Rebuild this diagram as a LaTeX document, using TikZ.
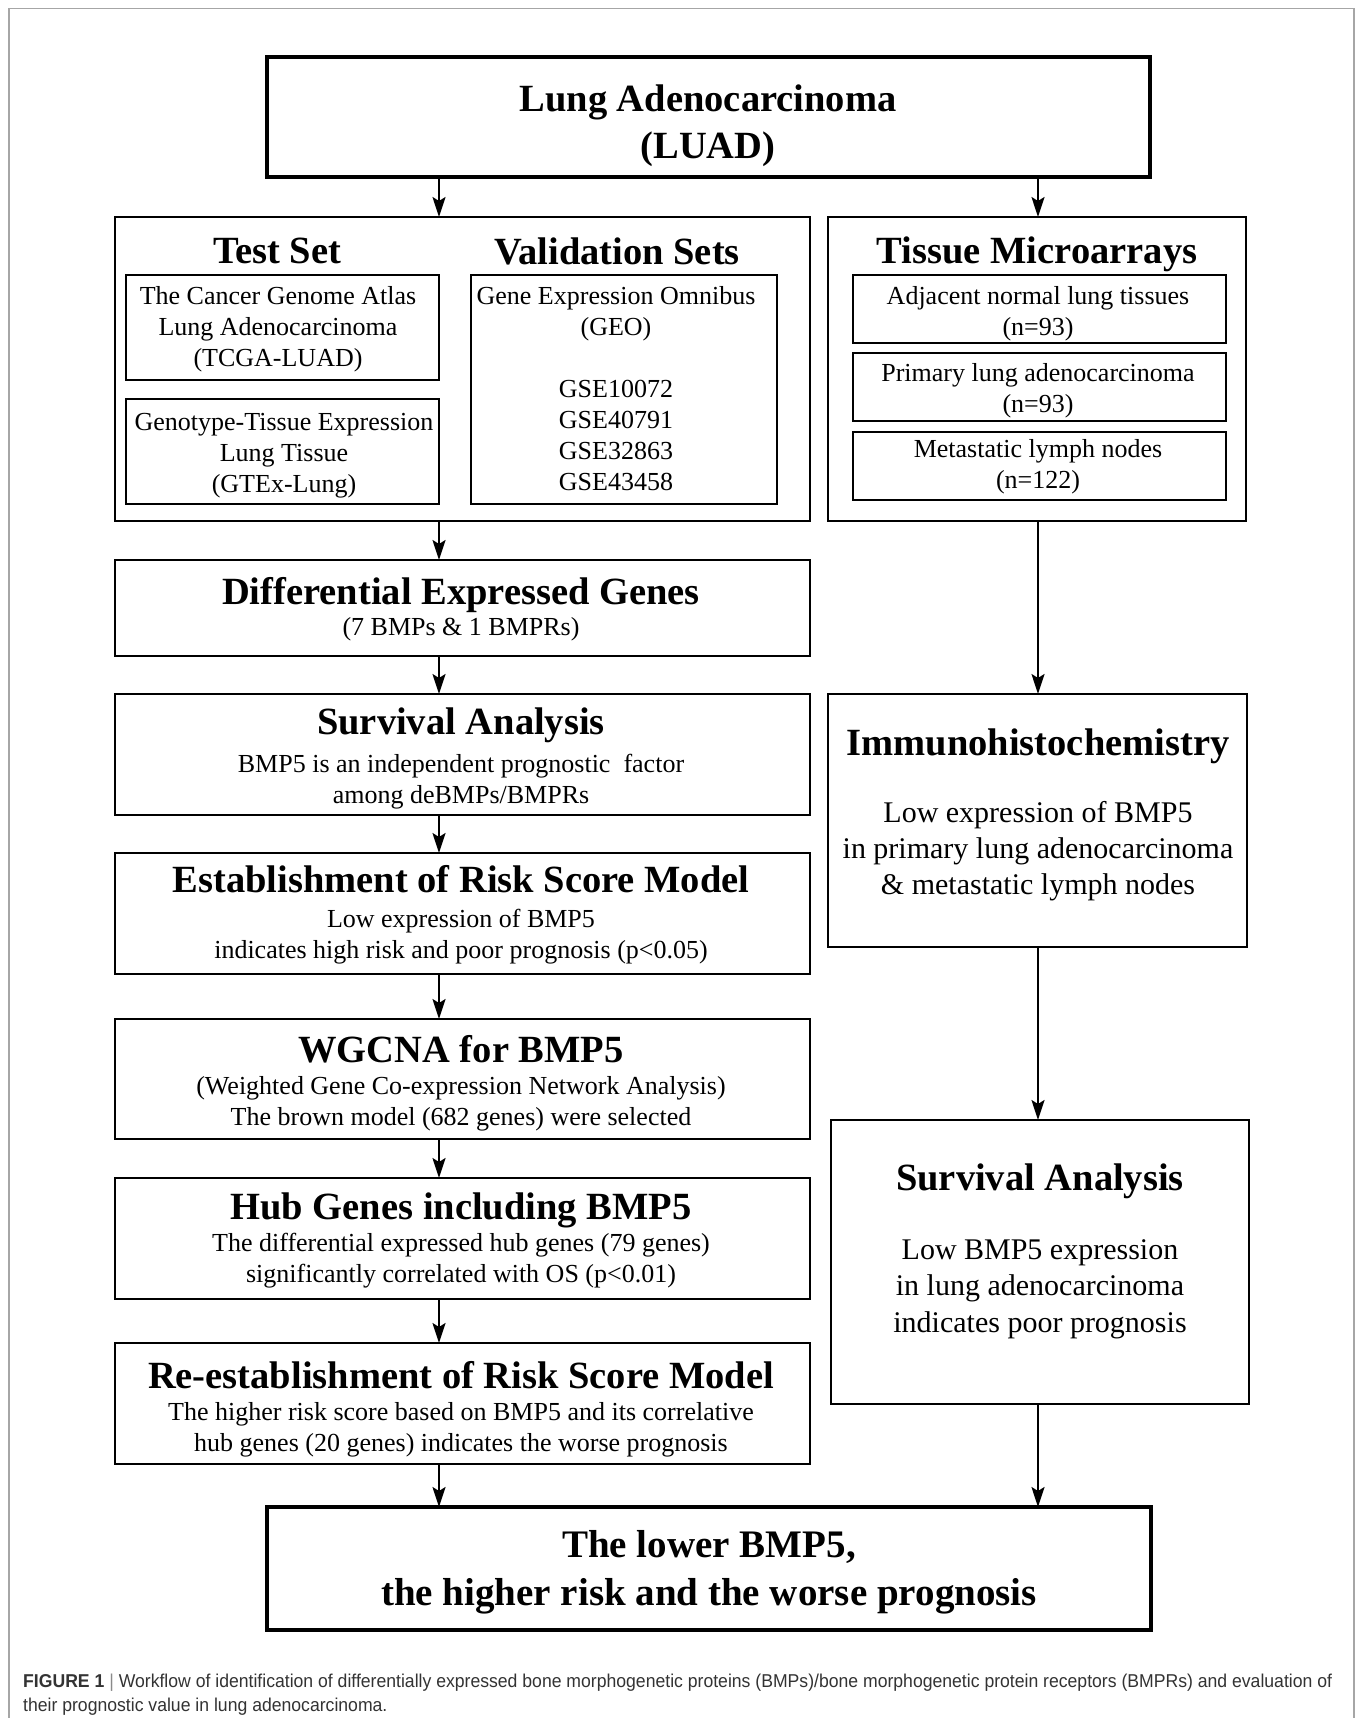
\documentclass[tikz,border=0pt]{standalone}
\usepackage{fontspec}
\usepackage{graphicx}
\setmainfont{Liberation Serif}
\newfontfamily\capfont{Liberation Sans}
\usetikzlibrary{arrows.meta}
\definecolor{framegray}{HTML}{A6A6A6}
\definecolor{captext}{HTML}{333333}
\definecolor{capbar}{HTML}{8A8A8A}
\newlength\capwd
\newcommand\capA{\textbf{FIGURE 1} {\color{capbar}|} Workflow of identification of differentially expressed bone morphogenetic proteins (BMPs)/bone morphogenetic protein receptors (BMPRs) and evaluation of}
\newcommand\capB{their prognostic value in lung adenocarcinoma.}
\begin{document}
\settowidth\capwd{\capfont\fontsize{18.6}{24}\selectfont\capA}%
\pgfmathsetmacro\capsx{1309/\capwd}%
\begin{tikzpicture}[x=1pt,y=-1pt,
  box/.style={draw, line width=2pt, inner sep=0pt, outer sep=0pt},
  thickbox/.style={box, line width=4.5pt},
  ttl/.style={font=\fontsize{38.5}{47}\selectfont\bfseries, align=center, inner sep=0pt},
  bodyL/.style={font=\fontsize{26}{31}\selectfont, align=center, inner sep=0pt},
  bodyR/.style={font=\fontsize{30}{35}\selectfont, align=center, inner sep=0pt},
  arr/.style={line width=2pt, -{Stealth[length=20pt,width=13pt,inset=4pt]}},
  capstyle/.style={anchor=base west, inner sep=0pt, text=captext, font=\capfont\fontsize{18.6}{24}\selectfont}
]
\useasboundingbox (0,0) rectangle (1355,1718);
\fill[white] (0,0) rectangle (1355,1718);
\draw[framegray, line width=1.5pt] (9,1718) -- (9,8.5) -- (1354,8.5) -- (1354,1718);

% columns for connectors
\coordinate (colL) at (439,0);
\coordinate (colR) at (1038,0);

% top box
\node[thickbox, minimum width=883pt, minimum height=120pt] (luad) at (708.5,117) {};
\node[ttl] (luadT) at (708,126) {Lung Adenocarcinoma\\(LUAD)};

% left data box
\node[box, minimum width=695pt, minimum height=304pt] (lbig) at (462.5,369) {};
\node[ttl] (testT) at (277,251) {Test Set};
\node[ttl] (valT) at (617,251) {Validation Sets};
\node[box, minimum width=313pt, minimum height=105pt] (tcga) at (282.5,327.5) {};
\node[bodyL] (tcgaT) at (278,329) {The Cancer Genome Atlas\\Lung Adenocarcinoma\\(TCGA-LUAD)};
\node[box, minimum width=313pt, minimum height=105pt] (gtex) at (282.5,451.5) {};
\node[bodyL] (gtexT) at (284,456) {Genotype-Tissue Expression\\Lung Tissue\\(GTEx-Lung)};
\node[box, minimum width=306pt, minimum height=229pt] (geo) at (624,389.5) {};
\node[bodyL] (geoT) at (616,389) {Gene Expression Omnibus\\(GEO)\\[31pt]GSE10072\\GSE40791\\GSE32863\\GSE43458};

% right data box
\node[box, minimum width=418pt, minimum height=304pt] (tma) at (1037,369) {};
\node[ttl] (tmaT) at (1037,254) {Tissue Microarrays};
\node[box, minimum width=373pt, minimum height=68pt] (adj) at (1039.5,309) {};
\node[bodyL] (adjT) at (1038,314) {Adjacent normal lung tissues\\(n=93)};
\node[box, minimum width=373pt, minimum height=68pt] (prim) at (1039.5,387) {};
\node[bodyL] (primT) at (1038,391) {Primary lung adenocarcinoma\\(n=93)};
\node[box, minimum width=373pt, minimum height=68pt] (meta) at (1039.5,465.5) {};
\node[bodyL] (metaT) at (1038,467) {Metastatic lymph nodes\\(n=122)};

% left column
\node[box, minimum width=695pt, minimum height=96pt] (deg) at (462.5,608) {};
\node[ttl] (degT) at (461,595) {Differential Expressed Genes};
\node[bodyL] (degS) at (461,629) {(7 BMPs \& 1 BMPRs)};

\node[box, minimum width=695pt, minimum height=121pt] (surv) at (462.5,754.5) {};
\node[ttl] (survT) at (461,725) {Survival Analysis};
\node[bodyL] (survS) at (461,782) {BMP5 is an independent prognostic~ factor\\among deBMPs/BMPRs};

\node[box, minimum width=695pt, minimum height=121pt] (est) at (462.5,913.5) {};
\node[ttl] (estT) at (461,879) {Establishment of Risk Score Model};
\node[bodyL] (estS) at (461,937) {Low expression of BMP5\\indicates high risk and poor prognosis (p<0.05)};

\node[box, minimum width=695pt, minimum height=120pt] (wgc) at (462.5,1079) {};
\node[ttl] (wgcT) at (461,1049) {WGCNA for BMP5};
\node[bodyL] (wgcS) at (461,1104) {(Weighted Gene Co-expression Network Analysis)\\The brown model (682 genes) were selected};

\node[box, minimum width=695pt, minimum height=121pt] (hub) at (462.5,1238.5) {};
\node[ttl] (hubT) at (461,1210) {Hub Genes including BMP5};
\node[bodyL] (hubS) at (461,1261) {The differential expressed hub genes (79 genes)\\significantly correlated with OS (p<0.01)};

\node[box, minimum width=695pt, minimum height=121pt] (rees) at (462.5,1403.5) {};
\node[ttl] (reesT) at (461,1375) {Re-establishment of Risk Score Model};
\node[bodyL] (reesS) at (461,1430) {The higher risk score based on BMP5 and its correlative\\hub genes (20 genes) indicates the worse prognosis};

% right column
\node[box, minimum width=419pt, minimum height=253pt] (imm) at (1037.5,820.5) {};
\node[ttl] (immT) at (1038,746) {Immunohistochemistry};
\node[bodyR, font=\fontsize{30}{36}\selectfont] (immS) at (1038,851) {Low expression of BMP5\\in primary lung adenocarcinoma\\\& metastatic lymph nodes};

\node[box, minimum width=418pt, minimum height=284pt] (sv2) at (1040,1262) {};
\node[ttl] (sv2T) at (1040,1181) {Survival Analysis};
\node[bodyR, font=\fontsize{30}{36.5}\selectfont] (sv2S) at (1040,1289) {Low BMP5 expression\\in lung adenocarcinoma\\indicates poor prognosis};

% final box
\node[thickbox, minimum width=884pt, minimum height=123pt] (final) at (709,1568.5) {};
\node[ttl, font=\fontsize{39}{48}\selectfont\bfseries] (finalT) at (709,1572) {The lower BMP5,\\the higher risk and the worse prognosis};

% connectors
\draw[arr] (luad.south -| colL) -- (lbig.north -| colL);
\draw[arr] (luad.south -| colR) -- (tma.north -| colR);
\draw[arr] (lbig.south -| colL) -- (deg.north -| colL);
\draw[arr] (deg.south -| colL) -- (surv.north -| colL);
\draw[arr] (surv.south -| colL) -- (est.north -| colL);
\draw[arr] (est.south -| colL) -- (wgc.north -| colL);
\draw[arr] (wgc.south -| colL) -- (hub.north -| colL);
\draw[arr] (hub.south -| colL) -- (rees.north -| colL);
\draw[arr] (rees.south -| colL) -- (final.north -| colL);
\draw[arr] (tma.south -| colR) -- (imm.north -| colR);
\draw[arr] (imm.south -| colR) -- (sv2.north -| colR);
\draw[arr] (sv2.south -| colR) -- (final.north -| colR);

% caption
\node[capstyle] (cap1) at (23,1687) {\scalebox{\capsx}[1]{\capA}};
\node[capstyle] (cap2) at (23,1711) {\scalebox{\capsx}[1]{\capB}};
\end{tikzpicture}
\end{document}
